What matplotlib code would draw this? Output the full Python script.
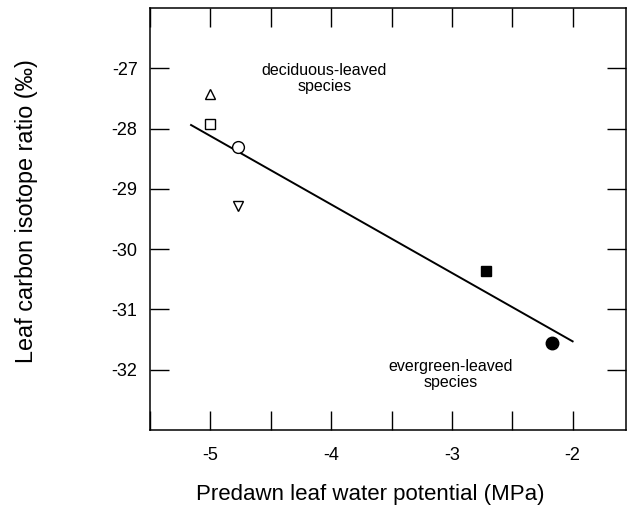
import matplotlib
matplotlib.use('Agg')
import matplotlib.pyplot as plt
from matplotlib.ticker import MultipleLocator

plt.rcParams['font.family'] = ['Liberation Sans', 'DejaVu Sans']

# open symbols: deciduous-leaved species
dec_x = [-5.0, -5.0, -4.77, -4.77]
dec_y = [-27.43, -27.92, -28.30, -29.29]
dec_markers = ['^', 's', 'o', 'v']
dec_sizes = [6.5, 6.5, 8.5, 6.5]

# filled symbols: evergreen-leaved species
ever_x = [-2.72, -2.17]
ever_y = [-30.36, -31.55]
ever_markers = ['s', 'o']
ever_sizes = [7, 9]

# regression line end points
fit_x = [-5.16, -2.0]
fit_y = [-27.94, -31.53]

fig = plt.figure(figsize=(6.34, 5.07), dpi=100)
ax = fig.add_axes([0.2366, 0.152, 0.7504, 0.832])

ax.plot(fit_x, fit_y, color='black', lw=1.4, zorder=2)
for x, y, m, s in zip(dec_x, dec_y, dec_markers, dec_sizes):
    ax.plot(x, y, marker=m, ms=s, mfc='white', mec='black', mew=1.0, ls='none', zorder=3)
for x, y, m, s in zip(ever_x, ever_y, ever_markers, ever_sizes):
    ax.plot(x, y, marker=m, ms=s, mfc='black', mec='black', ls='none', zorder=3)

ax.text(-4.056, -27.17, 'deciduous-leaved\nspecies', ha='center', va='center',
        fontsize=11.5, linespacing=1.1)
ax.text(-3.01, -32.08, 'evergreen-leaved\nspecies', ha='center', va='center',
        fontsize=11.5, linespacing=1.1)

ax.set_xlim(-5.5, -1.56)
ax.set_ylim(-33, -26)
ax.set_xticks([-5, -4, -3, -2])
ax.xaxis.set_minor_locator(MultipleLocator(0.5))
ax.set_yticks([-32, -31, -30, -29, -28, -27])
ax.set_xticklabels(['-5', '-4', '-3', '-2'])
ax.set_yticklabels(['-32', '-31', '-30', '-29', '-28', '-27'])
ax.tick_params(which='both', direction='in', top=True, right=True,
               length=13.5, width=1.0, labelsize=13)
ax.tick_params(axis='x', pad=12)
ax.tick_params(axis='y', pad=9)
for sp in ax.spines.values():
    sp.set_linewidth(1.1)

ax.set_xlabel('Predawn leaf water potential (MPa)', fontsize=16, labelpad=15)
ax.xaxis.label.set_x(0.462)
ax.set_ylabel('Leaf carbon isotope ratio (\u2030)', fontsize=16.8, labelpad=53)
ax.yaxis.label.set_y(0.52)

fig.savefig('out.png', dpi=100)
